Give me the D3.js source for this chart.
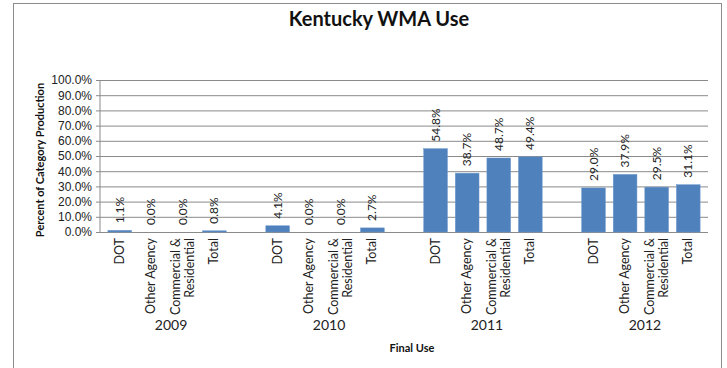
<!DOCTYPE html>
<html>
<head>
<meta charset="utf-8">
<script src="https://cdn.jsdelivr.net/npm/d3@7"></script>
<style>
  body { margin: 0; background: #fff; }
  svg { font-family: Lato, "Open Sans", sans-serif; }
</style>
</head>
<body>
<svg id="chart" width="727" height="368"></svg>
<script>
// data
const years = ["2009", "2010", "2011", "2012"];
const uses = ["DOT", "Other Agency", "Commercial &\nResidential", "Total"];
const values2009 = [1.1, 0.0, 0.0, 0.8];
const values2010 = [4.1, 0.0, 0.0, 2.7];
const values2011 = [54.8, 38.7, 48.7, 49.4];
const values2012 = [29.0, 37.9, 29.5, 31.1];
const yTicks = [0, 10, 20, 30, 40, 50, 60, 70, 80, 90, 100];

function getConfig() {
  let width = 727;
  let height = 368;
  let margin = { top: 80, bottom: 136, left: 100, right: 19 };
  let bodyHeight = height - margin.top - margin.bottom;
  let bodyWidth = width - margin.left - margin.right;
  let container = d3.select("#chart");
  return { width, height, margin, bodyHeight, bodyWidth, container };
}

const allValues = [values2009, values2010, values2011, values2012];

// one slot per bar, with an empty slot between years
let slots = [];
let bars = [];
years.forEach((y, i) => {
  uses.forEach((u, j) => {
    slots.push(y + "|" + j);
    bars.push({ year: y, use: u, key: y + "|" + j, value: allValues[i][j] });
  });
  if (i < years.length - 1) slots.push("gap" + i);
});

function draw() {
  let { width, height, margin, bodyHeight, bodyWidth, container } = getConfig();

  // outer frame
  container.append("rect")
    .attr("x", 13.5).attr("y", 3.5)
    .attr("width", 708).attr("height", 380)
    .attr("fill", "none").attr("stroke", "#8c8c8c");

  let xScale = d3.scaleBand().domain(slots).range([0, bodyWidth]).padding(0.25);
  let yScale = d3.scaleLinear().domain([0, 100]).range([bodyHeight, 0]);

  let body = container.append("g")
    .attr("transform", "translate(" + margin.left + "," + margin.top + ")");

  // gridlines + y axis
  let yAxis = body.append("g")
    .call(d3.axisLeft(yScale).tickValues(yTicks).tickFormat(d => d.toFixed(1) + "%")
      .tickSize(-bodyWidth).tickPadding(8));
  yAxis.select(".domain").remove();
  yAxis.selectAll("line").attr("stroke", "#8a8a8a").attr("x1", -4);
  yAxis.selectAll("text").attr("font-size", 12).attr("fill", "#222");

  body.append("line")
    .attr("x1", 0).attr("x2", 0).attr("y1", 0).attr("y2", bodyHeight)
    .attr("stroke", "#8a8a8a");

  // bars
  body.selectAll("rect.bar")
    .data(bars)
    .enter()
    .append("rect")
    .attr("class", "bar")
    .attr("x", d => xScale(d.key))
    .attr("y", d => yScale(d.value))
    .attr("width", xScale.bandwidth())
    .attr("height", d => bodyHeight - yScale(d.value))
    .attr("fill", "#4f81bd")
    .attr("stroke", "#6a96cb")
    .attr("stroke-width", 0.5);

  // data labels, rotated
  body.selectAll("text.val")
    .data(bars)
    .enter()
    .append("text")
    .attr("class", "val")
    .attr("transform", d => "translate(" + (xScale(d.key) + xScale.bandwidth() / 2 + 4) + "," + (yScale(d.value) - 7) + ")rotate(-90)")
    .attr("font-size", 12)
    .attr("fill", "#222")
    .text(d => d.value.toFixed(1) + "%");

  // category labels
  let cats = body.selectAll("g.cat")
    .data(bars)
    .enter()
    .append("g")
    .attr("class", "cat")
    .attr("transform", d => "translate(" + (xScale(d.key) + xScale.bandwidth() / 2) + "," + (bodyHeight + 6) + ")rotate(-90)");
  cats.each(function(d) {
    let lines = d.use.split("\n");
    let t = d3.select(this).append("text")
      .attr("text-anchor", "end")
      .attr("font-size", 12.5)
      .attr("fill", "#222");
    lines.forEach((l, k) => {
      t.append("tspan")
        .attr("x", 0)
        .attr("y", 4 + (k - (lines.length - 1) / 2) * 14)
        .text(l);
    });
  });

  // year labels
  body.selectAll("text.year")
    .data(years)
    .enter()
    .append("text")
    .attr("class", "year")
    .attr("x", (y, i) => {
      let a = xScale(y + "|0");
      let b = xScale(y + "|3") + xScale.bandwidth();
      return (a + b) / 2 + 4;
    })
    .attr("y", bodyHeight + 98)
    .attr("text-anchor", "middle")
    .attr("font-size", 14)
    .attr("fill", "#222")
    .text(y => y);

  // titles
  container.append("text")
    .attr("x", 379).attr("y", 26)
    .attr("text-anchor", "middle")
    .attr("font-size", 20)
    .attr("font-weight", "bold")
    .attr("fill", "#111")
    .text("Kentucky WMA Use");

  container.append("text")
    .attr("x", margin.left + bodyWidth / 2 + 8).attr("y", 352)
    .attr("text-anchor", "middle")
    .attr("font-size", 11)
    .attr("font-weight", "bold")
    .attr("fill", "#111")
    .text("Final Use");

  container.append("text")
    .attr("transform", "translate(44," + (margin.top + bodyHeight / 2 + 4) + ")rotate(-90)")
    .attr("text-anchor", "middle")
    .attr("font-size", 11)
    .attr("font-weight", "bold")
    .attr("fill", "#111")
    .text("Percent of Category Production");
}

draw();
</script>
</body>
</html>
